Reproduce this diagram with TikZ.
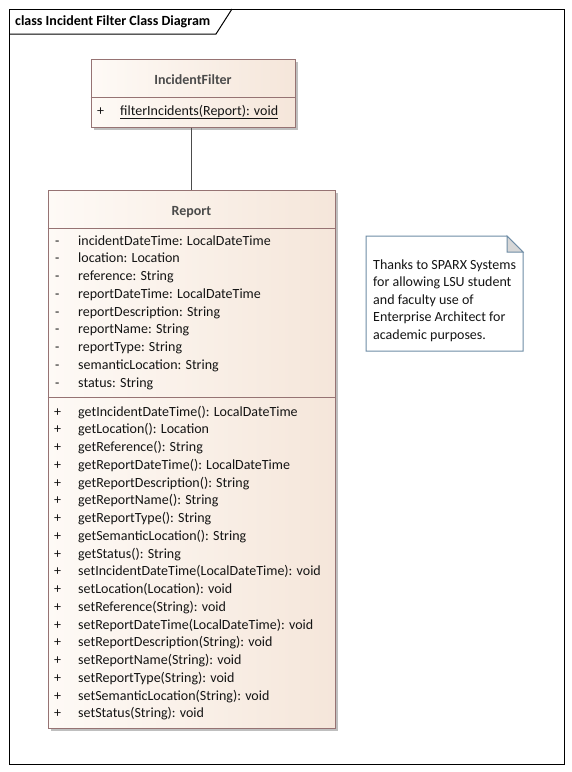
\documentclass[tikz,border=0pt]{standalone}
\usepackage{fontspec}
\setmainfont{Carlito}
\usetikzlibrary{shadows}
\definecolor{clsborder}{RGB}{150,115,115}
\definecolor{clsleft}{RGB}{254,250,246}
\definecolor{clsright}{RGB}{245,230,218}
\definecolor{noteborder}{RGB}{110,140,165}
\definecolor{foldfill}{RGB}{215,215,215}
\definecolor{hdrtext}{RGB}{75,75,75}
\definecolor{bodytext}{RGB}{20,20,20}
\begin{document}
\begin{tikzpicture}[x=1pt,y=-1pt,
  classbox/.style={draw=clsborder, line width=1pt, left color=clsleft, right color=clsright,
    drop shadow={shadow xshift=3pt, shadow yshift=-3pt, fill=black!25, opacity=1},
    inner sep=0pt},
  divider/.style={draw=clsborder, line width=1pt},
  hdr/.style={font=\fontsize{14}{16}\selectfont\bfseries, text=hdrtext, inner sep=0pt, text height=10pt, text depth=3pt},
  txt/.style={font=\fontsize{14}{16}\selectfont, text=bodytext, inner sep=0pt, anchor=west, text height=10pt, text depth=3pt},
  frame/.style={draw=black, line width=1pt},
  notebox/.style={draw=noteborder, line width=1pt, fill=white},
  link/.style={draw=black!70, line width=1pt}
]
\useasboundingbox (0,0) rectangle (572,772);
\fill[white] (0,0) rectangle (572,772);
% frame
\draw[frame] (9,9) rectangle (564,764);
\draw[frame] (9,34) -- (216,34) -- (232,9);
\node[font=\fontsize{14}{16}\selectfont\bfseries, inner sep=0pt, anchor=west, text height=10pt, text depth=3pt] (title) at (15,22) {class Incident Filter Class Diagram};

% IncidentFilter
\node[classbox, minimum width=204pt, minimum height=68pt] (IF) at (193,93) {};
\draw[divider] (IF.west |- 0,97) -- (IF.east |- 0,97);
\node[hdr] (IFname) at (193,80.5) {IncidentFilter};
\node[txt] (IFv) at (97,111.5) {+};
\node[txt] (IFm) at (120,111.5) {\underline{filterIncidents(Report): void}};

% Report
\node[classbox, minimum width=287pt, minimum height=538pt] (R) at (191.5,459) {};
\draw[divider] (R.west |- 0,228) -- (R.east |- 0,228);
\draw[divider] (R.west |- 0,397) -- (R.east |- 0,397);
\node[hdr] (Rname) at (191.5,211.5) {Report};

\foreach \t [count=\i from 0] in {incidentDateTime: LocalDateTime, location: Location, reference: String, reportDateTime: LocalDateTime, reportDescription: String, reportName: String, reportType: String, semanticLocation: String, status: String}{
  \node[txt] (av\i) at (55,241.5+17.75*\i) {-};
  \node[txt] (a\i) at (78,241.5+17.75*\i) {\t};
}
\foreach \t [count=\i from 0] in {getIncidentDateTime(): LocalDateTime, getLocation(): Location, getReference(): String, getReportDateTime(): LocalDateTime, getReportDescription(): String, getReportName(): String, getReportType(): String, getSemanticLocation(): String, getStatus(): String, setIncidentDateTime(LocalDateTime): void, setLocation(Location): void, setReference(String): void, setReportDateTime(LocalDateTime): void, setReportDescription(String): void, setReportName(String): void, setReportType(String): void, setSemanticLocation(String): void, setStatus(String): void}{
  \node[txt] (mv\i) at (54,412.5+17.76*\i) {+};
  \node[txt] (m\i) at (78,412.5+17.76*\i) {\t};
}

% association
\draw[link] (R.north |- IF.south) -- (R.north);

% note
\coordinate (N) at (366,236);
\draw[notebox] (N) -- (507,236) -- (523,252) -- (523,351) -- (366,351) -- cycle;
\filldraw[draw=noteborder, fill=foldfill, line width=1pt] (507,236) -- (523,252) -- (507,252) -- cycle;
\foreach \t [count=\i from 0] in {Thanks to SPARX Systems, for allowing LSU student, and faculty use of, Enterprise Architect for, academic purposes.}{
  \node[txt] (n\i) at (373,265.5+17.5*\i) {\t};
}
\end{tikzpicture}
\end{document}
